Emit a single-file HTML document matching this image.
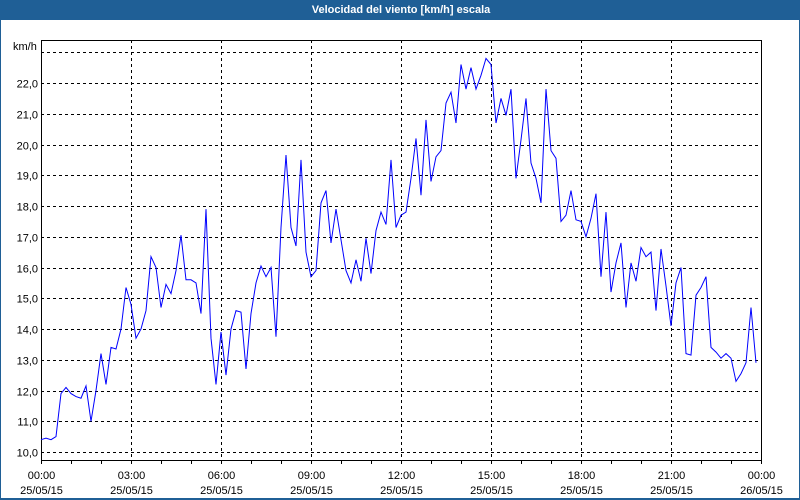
<!DOCTYPE html>
<html><head><meta charset="utf-8"><style>
html,body{margin:0;padding:0;background:#fff;}
#wrap{position:relative;width:800px;height:500px;box-sizing:border-box;border:1px solid #1f5f96;border-top:none;border-bottom:2px solid #1f5f96;overflow:hidden;font-family:"Liberation Sans",sans-serif;}
#title{position:absolute;left:0;top:0;width:800px;height:20px;background:#1f5f96;color:#fff;font-weight:bold;font-size:11px;line-height:20px;text-align:center;}
svg text{font-family:"Liberation Sans",sans-serif;font-size:11px;fill:#000;}
</style></head><body>
<div id="wrap">
<div id="title">Velocidad del viento [km/h] escala</div>
<svg id="chart" width="800" height="500" style="position:absolute;left:0;top:0"></svg>
</div>
<script>
const yTicks=[10,11,12,13,14,15,16,17,18,19,20,21,22,23];
const yTickLabels=["10,0","11,0","12,0","13,0","14,0","15,0","16,0","17,0","18,0","19,0","20,0","21,0","22,0",""];
const xTickHours=[0,3,6,9,12,15,18,21,24];
const xTickLabels=["00:00","03:00","06:00","09:00","12:00","15:00","18:00","21:00","00:00"];
const xTickDates=["25/05/15","25/05/15","25/05/15","25/05/15","25/05/15","25/05/15","25/05/15","25/05/15","26/05/15"];
const windSpeed=[10.4,10.45,10.4,10.5,11.9,12.1,11.9,11.8,11.75,12.15,11.0,12.0,13.2,12.2,13.4,13.35,14.0,15.35,14.8,13.7,14.0,14.6,16.35,16.0,14.7,15.45,15.15,15.9,17.05,15.6,15.6,15.5,14.5,17.9,13.7,12.2,13.9,12.5,14.0,14.6,14.55,12.7,14.5,15.5,16.05,15.7,16.0,13.75,17.3,19.66,17.3,16.7,19.5,16.5,15.7,15.9,18.1,18.5,16.8,17.9,16.9,15.9,15.5,16.25,15.55,16.95,15.8,17.2,17.8,17.4,19.5,17.3,17.7,17.8,18.9,20.2,18.35,20.8,18.8,19.6,19.8,21.35,21.7,20.7,22.6,21.8,22.5,21.8,22.25,22.8,22.6,20.7,21.5,20.95,21.8,18.9,20.15,21.5,19.4,18.9,18.1,21.8,19.8,19.55,17.5,17.7,18.5,17.55,17.5,17.0,17.6,18.4,15.7,17.8,15.2,16.15,16.8,14.7,16.15,15.55,16.65,16.35,16.5,14.6,16.6,15.4,14.1,15.5,16.0,13.2,13.15,15.1,15.35,15.7,13.4,13.25,13.05,13.2,13.05,12.3,12.55,12.9,14.7,12.9];
const stepMinutes=10;

const L=40,R=760,T=40,B=460;
const yScale=v=>452-(v-10)*30.75;
const xScale=h=>L+(h/24)*(R-L);
const svg=document.getElementById('chart');
const NS='http://www.w3.org/2000/svg';
function mk(tag,attrs){const e=document.createElementNS(NS,tag);for(const k in attrs)e.setAttribute(k,attrs[k]);svg.appendChild(e);return e;}

yTicks.forEach((v,i)=>{
  const y=Math.round(yScale(v))+0.5;
  const g=mk('line',{x1:L,x2:R,y1:y,y2:y,stroke:'#000','stroke-dasharray':'3,3','stroke-width':1});
  
  
  if(yTickLabels[i]){
    const t=mk('text',{x:L-3,y:y+4,'text-anchor':'end'});
    t.textContent=yTickLabels[i];
    
    
  }
});
xTickHours.forEach((h,i)=>{
  const x=Math.round(xScale(h))+0.5;
  if(h>0&&h<24){
    const g=mk('line',{x1:x,x2:x,y1:T,y2:B,stroke:'#000','stroke-dasharray':'3,3','stroke-width':1});
    
    
  }
  const t=mk('text',{x:x,y:479,'text-anchor':'middle'});
  t.textContent=xTickLabels[i];
  
  
  const d=mk('text',{x:x,y:494,'text-anchor':'middle'});
  d.textContent=xTickDates[i];
  
  
});
for(let h=0;h<=24;h++){
  const x=Math.round(xScale(h))+0.5;
  const m=mk('line',{x1:x,x2:x,y1:B,y2:B+4,stroke:'#000','stroke-width':1});
  
  
}
const frame=mk('rect',{x:L+0.5,y:T+0.5,width:R-L,height:B-T,fill:'none',stroke:'#000','stroke-width':1});


const unit=mk('text',{x:12,y:50});
unit.textContent='km/h';



const pts=windSpeed.map((v,i)=>xScale(i*stepMinutes/60).toFixed(1)+','+yScale(v).toFixed(1)).join(' ');
const line=mk('polyline',{points:pts,fill:'none',stroke:'#0000ff','stroke-width':1});


</script>
</body></html>
